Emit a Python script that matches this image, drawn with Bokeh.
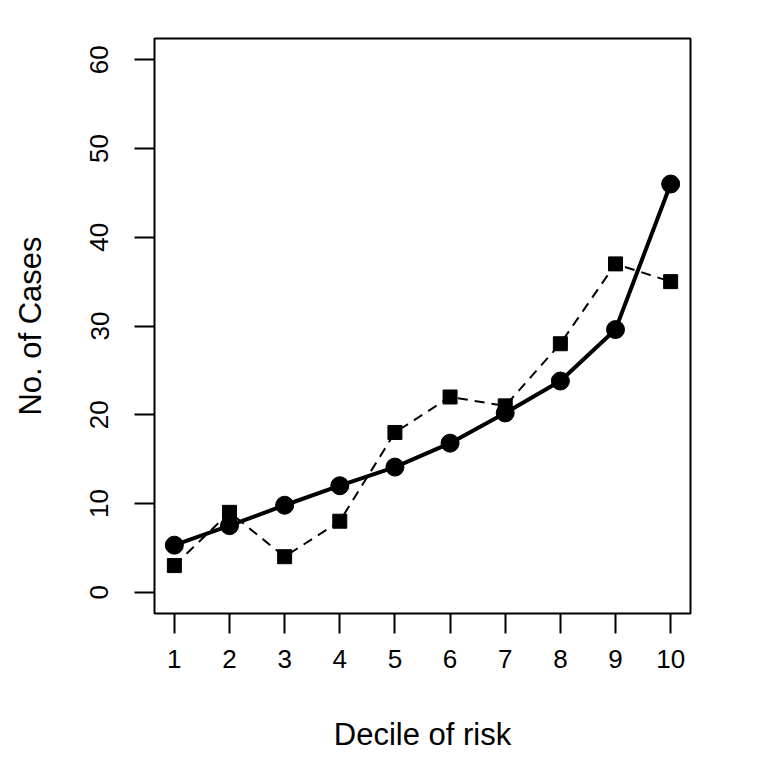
from bokeh.plotting import figure
from bokeh.models import Range1d, FixedTicker
from bokeh.embed import file_html
from bokeh.resources import INLINE

deciles = [1, 2, 3, 4, 5, 6, 7, 8, 9, 10]
expected = [5.3, 7.5, 9.8, 12.0, 14.1, 16.8, 20.2, 23.8, 29.6, 46.0]
observed = [3, 9, 4, 8, 18, 22, 21, 28, 37, 35]
x_ticks = [1, 2, 3, 4, 5, 6, 7, 8, 9, 10]
y_ticks = [0, 10, 20, 30, 40, 50, 60]

FONT = "Liberation Sans"

p = figure(width=760, height=760, output_backend="svg", toolbar_location=None,
           x_range=Range1d(0.64, 10.36), y_range=Range1d(-2.4, 62.4),
           min_border_left=154, min_border_top=38, min_border_right=70, min_border_bottom=147)
p.xgrid.visible = False
p.ygrid.visible = False
p.outline_line_color = "black"
p.outline_line_width = 2
p.background_fill_color = "white"
p.border_fill_color = "white"

for ax in (p.xaxis[0], p.yaxis[0]):
    ax.axis_line_color = None
    ax.major_tick_in = 0
    ax.major_tick_out = 20
    ax.major_tick_line_width = 2
    ax.major_tick_line_color = "black"
    ax.minor_tick_line_color = None
    ax.major_label_text_font = FONT
    ax.major_label_text_font_size = "26px"
    ax.major_label_text_color = "black"
    ax.axis_label_text_font = FONT
    ax.axis_label_text_font_size = "31px"
    ax.axis_label_text_font_style = "normal"
    ax.axis_label_text_color = "black"

p.xaxis[0].ticker = FixedTicker(ticks=x_ticks)
p.yaxis[0].ticker = FixedTicker(ticks=y_ticks)
p.yaxis[0].major_label_orientation = "vertical"
p.xaxis[0].axis_label = "Decile of risk"
p.yaxis[0].axis_label = "No. of Cases"
p.xaxis[0].major_label_standoff = 16
p.yaxis[0].major_label_standoff = 26
p.xaxis[0].axis_label_standoff = 46
p.yaxis[0].axis_label_standoff = 40

p.line(deciles, observed, line_color="black", line_width=2, line_dash="10 7")
p.scatter(deciles, observed, marker="square", size=14, fill_color="black", line_color="black")
p.line(deciles, expected, line_color="black", line_width=4)
p.scatter(deciles, expected, marker="circle", size=18, fill_color="black", line_color="black")

open("out.html", "w").write(file_html(p, INLINE))
